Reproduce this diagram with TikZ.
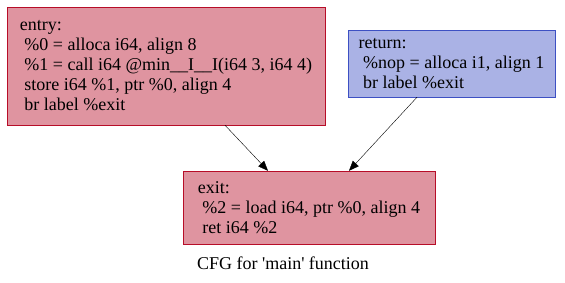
\documentclass[tikz,border=0pt]{standalone}
\usepackage{fontspec}
\setmainfont{Liberation Serif}
\usepackage{tikz}
\definecolor{colorHot}{HTML}{B70D28}
\definecolor{colorHotFill}{HTML}{DF94A0}
\definecolor{colorCold}{HTML}{3D50C3}
\definecolor{colorColdFill}{HTML}{AAB2E5}
\usetikzlibrary{arrows.meta}
\usetikzlibrary{positioning}
\tikzset{
   every path/.style={>={Triangle[length=10pt,width=8pt]}},
   block/.style={rectangle,draw,align=left,inner sep=0pt,
      font=\fontsize{18}{20}\selectfont},
   hot/.style={block,draw=colorHot,fill=colorHotFill},
   cold/.style={block,draw=colorCold,fill=colorColdFill},
   cfg/.style={->,black,thin},
}

\begin{document}
\begin{tikzpicture}[x=1pt,y=1pt]
        \useasboundingbox (0,0) rectangle (565,-282);

        \node[hot, minimum width=318pt, minimum height=118pt] (entry) at (166, -66)
            {entry:\\
             ~\%0 = alloca i64, align 8\\
             ~\%1 = call i64 @min\_\_I\_\_I(i64 3, i64 4)\\
             ~store i64 \%1, ptr \%0, align 4\\
             ~br label \%exit};

        \node[cold, minimum width=207pt, minimum height=67pt] (return) at (451.5, -63.5)
            {return:\\
             ~\%nop = alloca i1, align 1\\
             ~br label \%exit};

        \node[hot, minimum width=252pt, minimum height=73pt] (exit) at (309, -207.5)
            {exit:\\
             ~\%2 = load i64, ptr \%0, align 4\\
             ~ret i64 \%2};

        \node[font=\fontsize{18}{20}\selectfont, below=9pt of exit, xshift=-26pt] (title)
            {CFG for \textquotesingle main\textquotesingle{} function};

        \draw[cfg] ([xshift=59pt]entry.south) -- ([xshift=-41pt]exit.north);
        \draw[cfg] ([xshift=-34.5pt]return.south) -- ([xshift=40pt]exit.north);
\end{tikzpicture}
\end{document}
